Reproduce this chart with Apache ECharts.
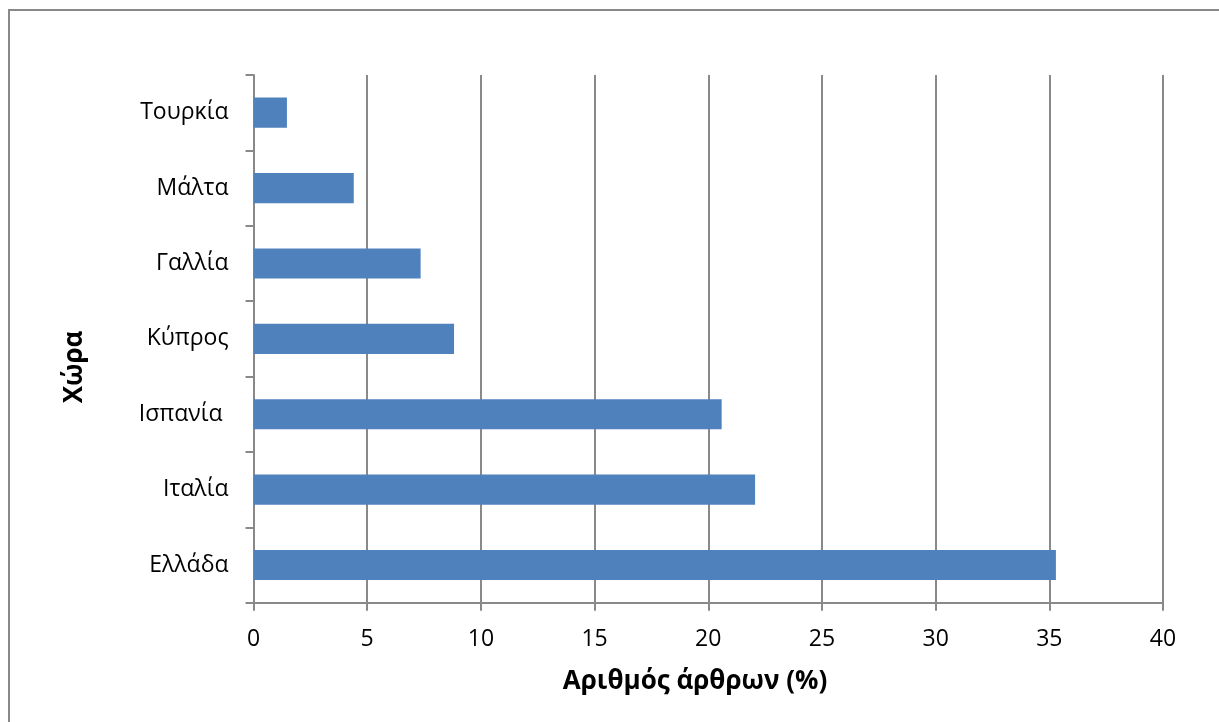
<!DOCTYPE html>
<html>
<head>
<meta charset="utf-8">
<script src="https://cdn.jsdelivr.net/npm/echarts@6/dist/echarts.min.js"></script>
<style>
  html, body { margin: 0; padding: 0; background: #ffffff; }
  #chart { width: 1219px; height: 722px; }
</style>
</head>
<body>
<div id="chart"></div>
<script>
// Countries, listed from top to bottom of the chart
const countries = ['Τουρκία', 'Μάλτα', 'Γαλλία', 'Κύπρος', 'Ισπανία ', 'Ιταλία', 'Ελλάδα'];
// Share of articles per country (%)
const shares = [1.47, 4.41, 7.35, 8.82, 20.59, 22.06, 35.29];
// Value axis range and step
const axisMin = 0;
const axisMax = 40;
const axisStep = 5;

const FONT = '"Open Sans", "Noto Sans", sans-serif';
const GRAY = '#898989';

const chart = echarts.init(document.getElementById('chart'), null, { renderer: 'canvas' });

chart.setOption({
  backgroundColor: '#ffffff',
  animation: false,
  grid: { left: 253.5, right: 56, top: 75, bottom: 119.3, containLabel: false },
  xAxis: {
    type: 'value',
    min: axisMin,
    max: axisMax,
    interval: axisStep,
    axisLine: { show: true, lineStyle: { color: GRAY, width: 2 } },
    axisTick: { show: true, length: 8, lineStyle: { color: GRAY, width: 2 } },
    splitLine: { show: true, lineStyle: { color: GRAY, width: 2 } },
    axisLabel: { color: '#000000', fontFamily: FONT, fontSize: 23, margin: 25 }
  },
  yAxis: {
    type: 'category',
    inverse: true,
    data: countries,
    axisLine: { show: true, lineStyle: { color: GRAY, width: 2 } },
    axisTick: { show: true, length: 8, alignWithLabel: false, lineStyle: { color: GRAY, width: 2 } },
    splitLine: { show: false },
    axisLabel: { color: '#000000', fontFamily: FONT, fontSize: 23, margin: 25 }
  },
  series: [{
    type: 'bar',
    data: shares,
    barWidth: '40%',
    itemStyle: { color: '#4F81BD' }
  }],
  graphic: [
    {
      type: 'rect',
      silent: true,
      shape: { x: 9, y: 10, width: 1400, height: 900 },
      style: { fill: null, stroke: GRAY, lineWidth: 2 }
    },
    {
      type: 'text',
      silent: true,
      x: 695,
      y: 682,
      style: {
        text: 'Αριθμός άρθρων (%)',
        fill: '#000000',
        font: 'bold 26px ' + FONT,
        align: 'center',
        verticalAlign: 'middle'
      }
    },
    {
      type: 'text',
      silent: true,
      x: 75,
      y: 367,
      rotation: Math.PI / 2,
      style: {
        text: 'Χώρα',
        fill: '#000000',
        font: 'bold 26px ' + FONT,
        align: 'center',
        verticalAlign: 'middle'
      }
    }
  ]
});
</script>
</body>
</html>
